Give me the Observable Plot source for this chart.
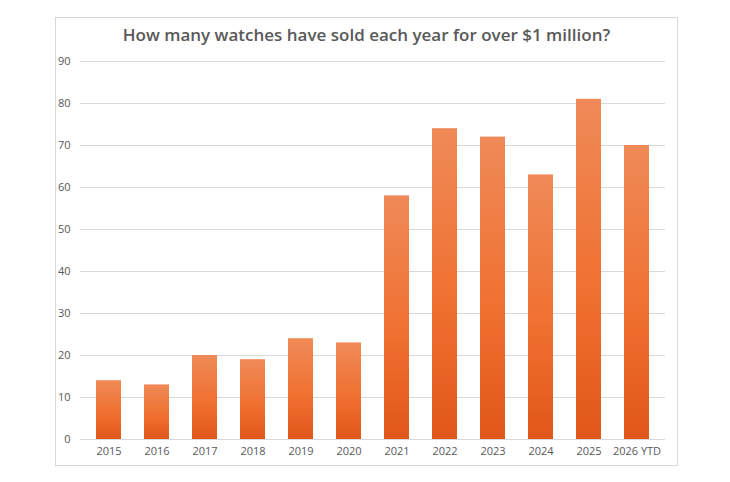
<!DOCTYPE html>
<html><head><meta charset="utf-8">
<script src="https://cdn.jsdelivr.net/npm/d3@7"></script>
<script src="https://cdn.jsdelivr.net/npm/@observablehq/plot@0.6"></script>
<style>
body{margin:0;background:#fff;font-family:"Open Sans",sans-serif;}
#box{position:absolute;left:55px;top:17px;width:621px;height:447px;border:1px solid #d9d9d9;}
#title{position:absolute;top:5px;left:0;width:100%;text-align:center;font-size:17px;font-weight:600;color:#595959;}
#chart{position:absolute;top:33px;left:0;}
</style></head><body>
<div id="box"><div id="title">How many watches have sold each year for over $1 million?</div><div id="chart"></div></div>
<script>
const years=["2015","2016","2017","2018","2019","2020","2021","2022","2023","2024","2025","2026 YTD"];
const counts=[14,13,20,19,24,23,58,74,72,63,81,70];
const yTicks=[0,10,20,30,40,50,60,70,80,90];
const data=years.map((y,i)=>({year:y,count:counts[i]}));
const plot=Plot.plot({
  width:620,height:415,marginTop:10,marginBottom:27,marginLeft:24,marginRight:11,
  style:{fontSize:"11px",color:"#595959",fontFamily:"'Open Sans',sans-serif"},
  x:{domain:years,paddingInner:0.47,paddingOuter:0.235,label:null,tickSize:0,tickPadding:8},
  y:{domain:[0,90],ticks:yTicks,label:null,tickSize:0,tickPadding:10},
  marks:[
    Plot.gridY(yTicks,{stroke:"#d9d9d9",strokeOpacity:1}),
    Plot.barY(data,{x:"year",y:"count",fill:"url(#og)"}),
    Plot.ruleY([0],{stroke:"#d9d9d9"})
  ]
});
const defs=d3.select(plot).insert("defs",":first-child");
const g=defs.append("linearGradient").attr("id","og").attr("x1",0).attr("y1",0).attr("x2",0).attr("y2",1);
g.append("stop").attr("offset","0%").attr("stop-color","#ef8a58");
g.append("stop").attr("offset","55%").attr("stop-color","#f07131");
g.append("stop").attr("offset","100%").attr("stop-color","#e0571a");
document.getElementById("chart").append(plot);
</script></body></html>
